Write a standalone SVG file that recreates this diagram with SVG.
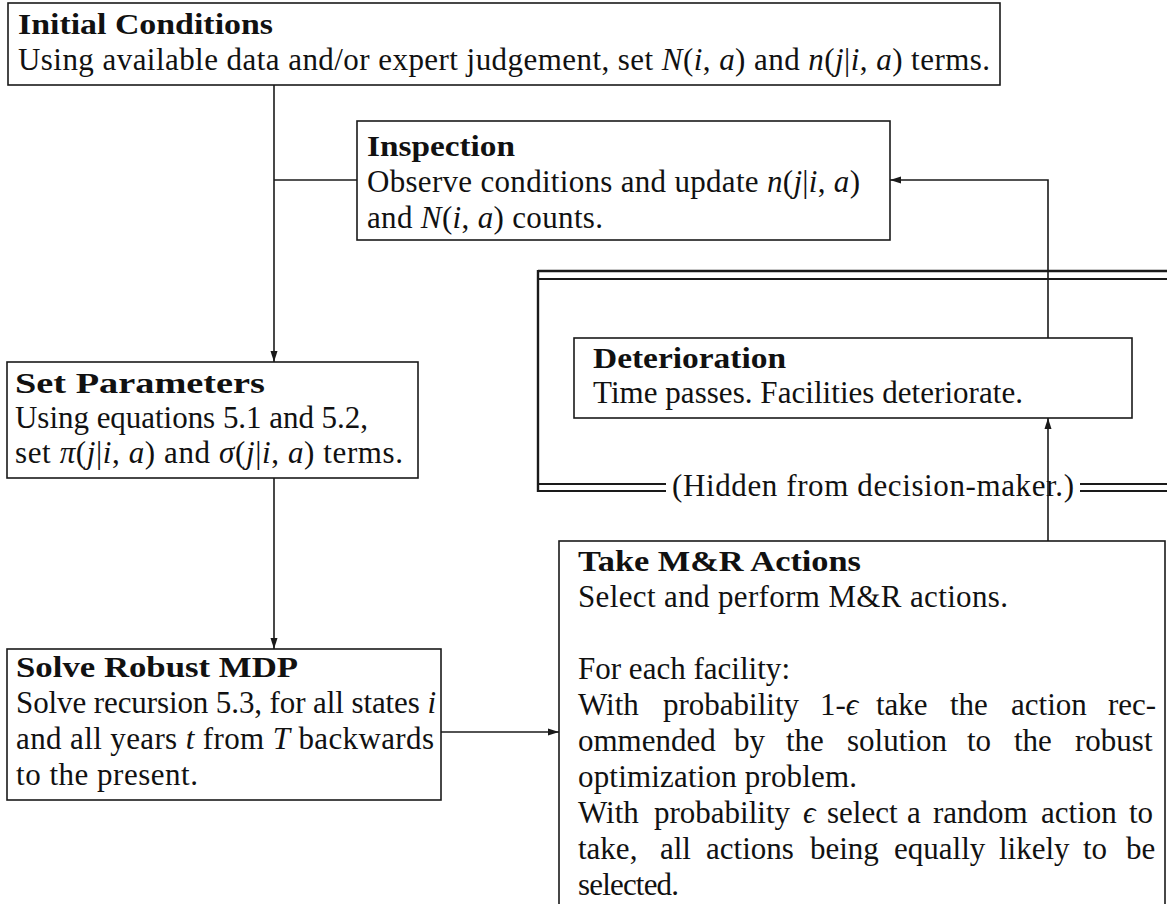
<svg xmlns="http://www.w3.org/2000/svg" width="1167" height="904" viewBox="0 0 1167 904">
<defs>
<style>
.box{fill:#fff;stroke:#1a1a1a;stroke-width:1.6}
.t{font-family:"Liberation Serif","Times New Roman",serif;font-size:31px;fill:#111}
.b{font-weight:bold;font-size:30px}
.m{font-style:italic}
.conn{stroke:#1a1a1a;stroke-width:1.6;fill:none}
.dl{stroke:#1a1a1a;fill:none}
</style>
<marker id="ah" markerUnits="userSpaceOnUse" markerWidth="12" markerHeight="8" refX="11" refY="4" orient="auto">
<path d="M0,0.5 L11,4 L0,7.5 z" fill="#1a1a1a"/>
</marker>
</defs>
<rect width="1167" height="904" fill="#fff"/>

<g id="hidden-region">
<path class="dl" stroke-width="2.4" d="M538,271 H1167 M538,270 V492"/>
<path class="dl" stroke-width="1.8" d="M538,279 H1167"/>
<path class="dl" stroke-width="1.8" d="M538,484 H666 M1080,484 H1167"/>
<path class="dl" stroke-width="2.2" d="M538,491 H666 M1080,491 H1167"/>
<text class="t" x="672" y="496" textLength="402">(Hidden from decision-maker.)</text>
</g>

<g id="initial-conditions">
<rect class="box" x="8" y="3" width="992" height="82"/>
<text class="t b" x="18" y="34" textLength="255" lengthAdjust="spacingAndGlyphs">Initial Conditions</text>
<text class="t" x="18" y="70" textLength="972">Using available data and/or expert judgement, set <tspan class="m">N</tspan>(<tspan class="m">i</tspan>, <tspan class="m">a</tspan>) and <tspan class="m">n</tspan>(<tspan class="m">j</tspan>|<tspan class="m">i</tspan>, <tspan class="m">a</tspan>) terms.</text>
</g>

<g id="inspection">
<rect class="box" x="357" y="121" width="533" height="119"/>
<text class="t b" x="367" y="156" textLength="148" lengthAdjust="spacingAndGlyphs">Inspection</text>
<text class="t" x="367" y="192" textLength="493">Observe conditions and update <tspan class="m">n</tspan>(<tspan class="m">j</tspan>|<tspan class="m">i</tspan>, <tspan class="m">a</tspan>)</text>
<text class="t" x="367" y="228" textLength="236">and <tspan class="m">N</tspan>(<tspan class="m">i</tspan>, <tspan class="m">a</tspan>) counts.</text>
</g>

<g id="set-parameters">
<rect class="box" x="7" y="362" width="411" height="116"/>
<text class="t b" x="15" y="393" textLength="250" lengthAdjust="spacingAndGlyphs">Set Parameters</text>
<text class="t" x="15" y="428" textLength="353">Using equations 5.1 and 5.2,</text>
<text class="t" x="15" y="463" textLength="388">set <tspan class="m">π</tspan>(<tspan class="m">j</tspan>|<tspan class="m">i</tspan>, <tspan class="m">a</tspan>) and <tspan class="m">σ</tspan>(<tspan class="m">j</tspan>|<tspan class="m">i</tspan>, <tspan class="m">a</tspan>) terms.</text>
</g>

<g id="solve-robust-mdp">
<rect class="box" x="7" y="649" width="434" height="151"/>
<text class="t b" x="16" y="677" textLength="282" lengthAdjust="spacingAndGlyphs">Solve Robust MDP</text>
<text class="t" x="16" y="713" textLength="420">Solve recursion 5.3, for all states <tspan class="m">i</tspan></text>
<text class="t" x="16" y="749" textLength="418">and all years <tspan class="m">t</tspan> from <tspan class="m">T</tspan> backwards</text>
<text class="t" x="16" y="785" textLength="182">to the present.</text>
</g>

<g id="deterioration">
<rect class="box" x="574" y="338" width="558" height="80"/>
<text class="t b" x="593" y="368" textLength="193" lengthAdjust="spacingAndGlyphs">Deterioration</text>
<text class="t" x="593" y="403" textLength="430">Time passes.  Facilities deteriorate.</text>
</g>

<g id="take-mr-actions">
<rect class="box" x="559" y="541" width="606" height="380"/>
<text class="t b" x="578" y="571" textLength="283" lengthAdjust="spacingAndGlyphs">Take M&amp;R Actions</text>
<text class="t" x="578" y="607" textLength="430">Select and perform M&amp;R actions.</text>
<text class="t" x="578" y="679" textLength="212">For each facility:</text>
<text class="t" y="715"><tspan x="578">With</tspan><tspan x="663">probability</tspan><tspan x="820">1-<tspan class="m">ϵ</tspan></tspan><tspan x="876">take</tspan><tspan x="950">the</tspan><tspan x="1011">action</tspan><tspan x="1108">rec-</tspan></text>
<text class="t" y="751"><tspan x="578">ommended</tspan><tspan x="734">by</tspan><tspan x="786">the</tspan><tspan x="847">solution</tspan><tspan x="967">to</tspan><tspan x="1014">the</tspan><tspan x="1075">robust</tspan></text>
<text class="t" x="578" y="787" textLength="279">optimization problem.</text>
<text class="t" y="823"><tspan x="578">With</tspan><tspan x="654">probability</tspan><tspan x="803" class="m">ϵ</tspan><tspan x="827">select</tspan><tspan x="907">a</tspan><tspan x="933">random</tspan><tspan x="1041">action</tspan><tspan x="1129">to</tspan></text>
<text class="t" y="859"><tspan x="578">take,</tspan><tspan x="660">all</tspan><tspan x="706">actions</tspan><tspan x="810">being</tspan><tspan x="894">equally</tspan><tspan x="999">likely</tspan><tspan x="1083">to</tspan><tspan x="1126">be</tspan></text>
<text class="t" x="578" y="895" textLength="101">selected.</text>
</g>

<g id="connectors">
<path class="conn" d="M274,85 V362" marker-end="url(#ah)"/>
<path class="conn" d="M274,180 H357"/>
<path class="conn" d="M274,478 V649" marker-end="url(#ah)"/>
<path class="conn" d="M441,732 H559" marker-end="url(#ah)"/>
<path class="conn" d="M1048,541 V418" marker-end="url(#ah)"/>
<path class="conn" d="M1048,338 V180 H890" marker-end="url(#ah)"/>
</g>
</svg>
